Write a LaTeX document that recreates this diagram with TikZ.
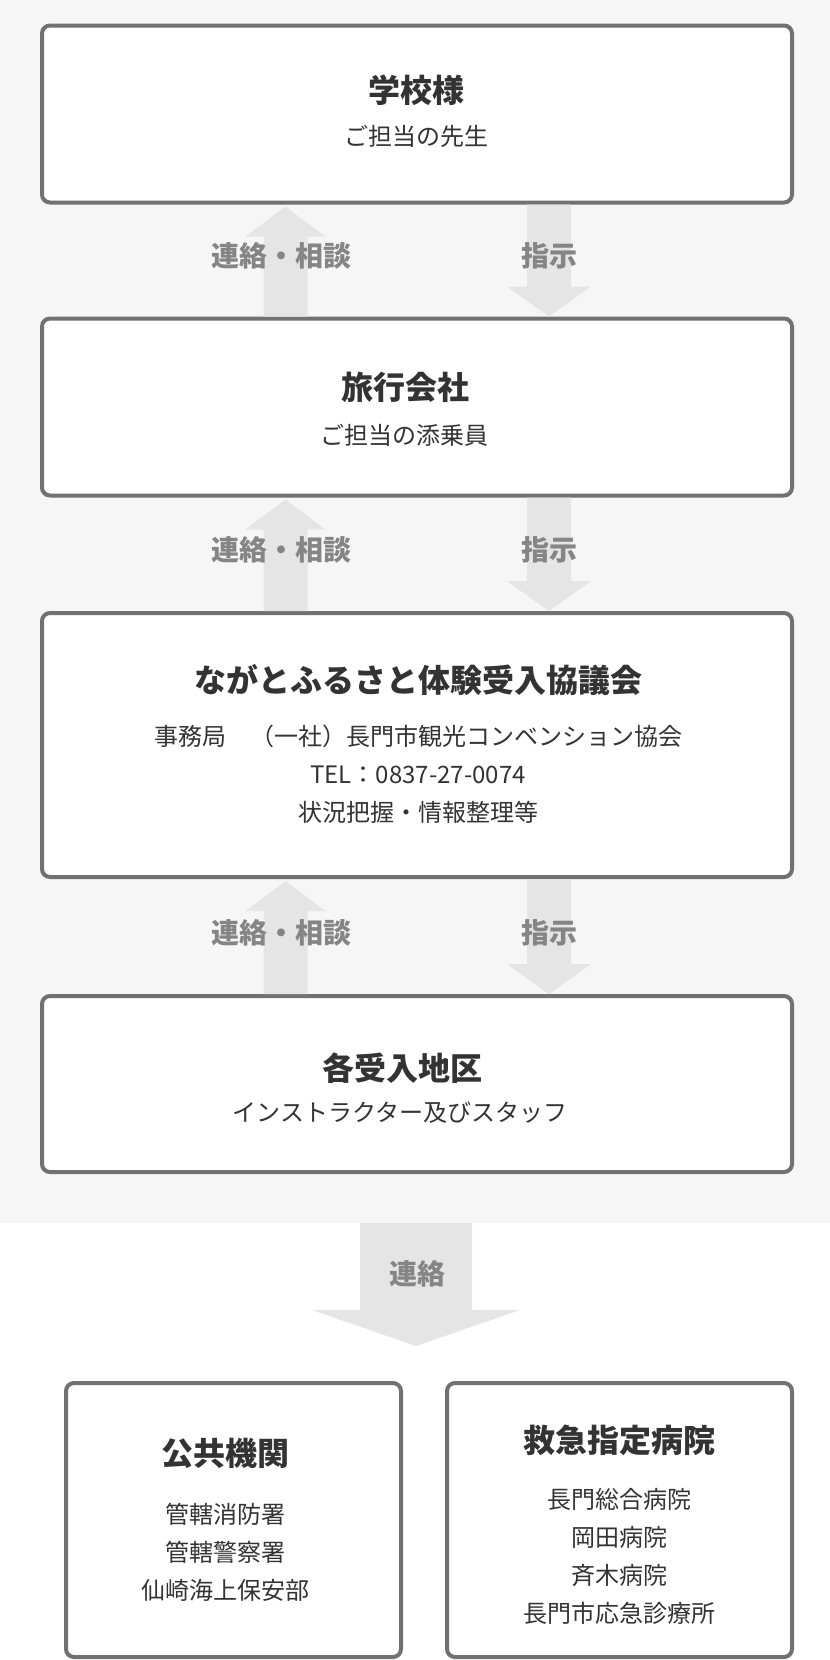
\documentclass[tikz,border=0pt]{standalone}
\usepackage{fontspec}
\setmainfont{Noto Sans CJK JP}
\usetikzlibrary{positioning,calc}
\definecolor{panelline}{HTML}{717171}
\definecolor{pagebg}{HTML}{F6F6F6}
\definecolor{arrowgray}{HTML}{E5E5E5}
\definecolor{labelgray}{HTML}{858585}
\definecolor{ink}{HTML}{333333}
% fat arrows between two panels: column, from, to
\newcommand{\fatup}[3]{%
  \fill[fatfill] ($(#2.north -| #1)+(-22,0)$) -- ($(#3.south -| #1)+(-22,32)$)
    -- ($(#3.south -| #1)+(-40,32)$) -- ($(#3.south -| #1)+(0,2)$)
    -- ($(#3.south -| #1)+(40,32)$) -- ($(#3.south -| #1)+(22,32)$)
    -- ($(#2.north -| #1)+(22,0)$) -- cycle;}
\newcommand{\fatdown}[3]{%
  \fill[fatfill] ($(#2.south -| #1)+(-22,0)$) -- ($(#3.north -| #1)+(-22,-30)$)
    -- ($(#3.north -| #1)+(-42,-30)$) -- (#3.north -| #1)
    -- ($(#3.north -| #1)+(42,-30)$) -- ($(#3.north -| #1)+(22,-30)$)
    -- ($(#2.south -| #1)+(22,0)$) -- cycle;}

\begin{document}
\begin{tikzpicture}[x=1pt, y=-1pt]
  \tikzset{panel/.style={draw=panelline, line width=4pt, rounded corners=8pt, fill=white}}
  \tikzset{heading/.style={font=\fontsize{32}{38}\selectfont\bfseries, text=ink, inner sep=0pt}}
  \tikzset{detail/.style={font=\fontsize{24}{38}\selectfont, text=ink, align=center, inner sep=0pt}}
  \tikzset{lbl/.style={font=\fontsize{28}{34}\selectfont\bfseries, text=labelgray, inner sep=0pt}}
  \tikzset{fatfill/.style={fill=arrowgray}}
  \useasboundingbox (0,0) rectangle (830,1660);
  \fill[pagebg] (0,0) rectangle (830,1223);

  % panels
  \node[panel, minimum width=750pt, minimum height=177pt] (school) at (417,114) {};
  \node[panel, minimum width=750pt, minimum height=177pt] (agency) at (417,407) {};
  \node[panel, minimum width=750pt, minimum height=264pt] (council) at (417,745) {};
  \node[panel, minimum width=750pt, minimum height=176pt] (district) at (417,1084) {};
  \node[panel, minimum width=335pt, minimum height=274pt] (public) at (233.5,1520) {};
  \node[panel, minimum width=345pt, minimum height=274pt] (hospital) at (619.5,1520) {};

  \node[heading] (schooltitle) at (416,90.5) {学校様};
  \node[detail] (schooltext) at (416,136) {ご担当の先生};
  \node[heading] (agencytitle) at (405,387.5) {旅行会社};
  \node[detail] (agencytext) at (404,435) {ご担当の添乗員};
  \node[heading] (counciltitle) at (418,680) {ながとふるさと体験受入協議会};
  \node[detail] (counciltext) at (418,774) {事務局　（一社）長門市観光コンベンション協会\\TEL：0837-27-0074\\状況把握・情報整理等};
  \node[heading] (districttitle) at (402.5,1068) {各受入地区};
  \node[detail] (districttext) at (400,1113) {インストラクター及びスタッフ};
  \node[heading] (publictitle) at (225,1453) {公共機関};
  \node[detail] (publictext) at (225,1552) {管轄消防署\\管轄警察署\\仙崎海上保安部};
  \node[heading] (hospitaltitle) at (619,1440) {救急指定病院};
  \node[detail] (hospitaltext) at (619,1556) {長門総合病院\\岡田病院\\斉木病院\\長門市応急診療所};

  % arrows
  \coordinate (upcol) at (285.5,0);
  \coordinate (downcol) at (549,0);
  \fatup{upcol}{agency}{school}
  \fatdown{downcol}{school}{agency}
  \fatup{upcol}{council}{agency}
  \fatdown{downcol}{agency}{council}
  \fatup{upcol}{district}{council}
  \fatdown{downcol}{council}{district}

  \coordinate (linkstart) at (416,1223);
  \coordinate (linktip) at (416,1346);
  \fill[fatfill] ($(linkstart)+(-56,0)$) -- ($(linktip)+(-56,-36)$) -- ($(linktip)+(-104,-36)$)
    -- (linktip) -- ($(linktip)+(104,-36)$) -- ($(linktip)+(56,-36)$) -- ($(linkstart)+(56,0)$) -- cycle;

  \node[lbl] (ask1) at (281,256) {連絡・相談};
  \node[lbl] (order1) at (549,256) {指示};
  \node[lbl] (ask2) at (281,550) {連絡・相談};
  \node[lbl] (order2) at (549,550) {指示};
  \node[lbl] (ask3) at (281,933) {連絡・相談};
  \node[lbl] (order3) at (549,933) {指示};
  \node[lbl] (link) at (417,1274) {連絡};
\end{tikzpicture}
\end{document}
